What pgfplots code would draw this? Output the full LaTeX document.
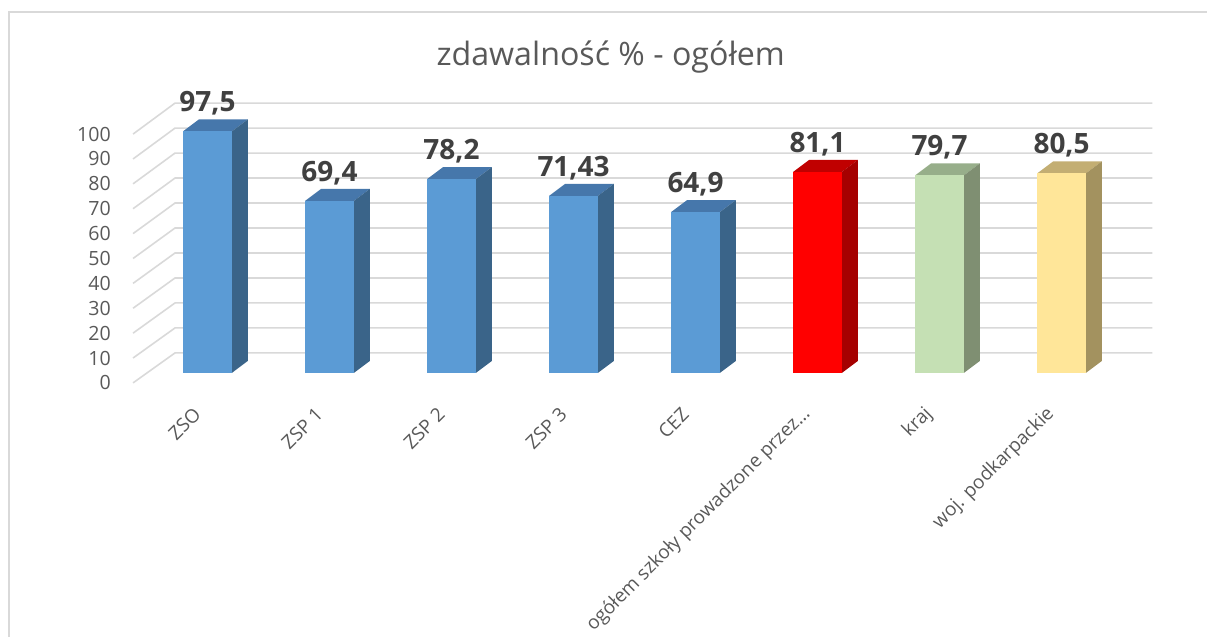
\documentclass[border=0pt]{standalone}
\usepackage{pgfplots}
\pgfplotsset{compat=1.18}
\usepackage{fontspec}
\setmainfont{Open Sans}
\definecolor{gridc}{HTML}{D9D9D9}
\definecolor{tickc}{HTML}{595959}
\definecolor{labc}{HTML}{404040}
\definecolor{bF}{HTML}{5B9BD5}\definecolor{bS}{HTML}{3A6489}\definecolor{bT}{HTML}{4677AB}
\definecolor{rF}{HTML}{FF0000}\definecolor{rS}{HTML}{A50000}\definecolor{rT}{HTML}{C00000}
\definecolor{gF}{HTML}{C5E0B4}\definecolor{gS}{HTML}{7F8F72}\definecolor{gT}{HTML}{97AE8A}
\definecolor{yF}{HTML}{FFE699}\definecolor{yS}{HTML}{A3925F}\definecolor{yT}{HTML}{C3AE73}
% x, value, front, side, top
\newcommand{\cbar}[5]{%
 \pgfmathsetmacro\xa{#1-0.2}%
 \pgfmathsetmacro\xb{#1+0.2}%
 \pgfmathsetmacro\xc{#1+0.331}%
 \pgfmathsetmacro\xd{#1-0.069}%
 \pgfmathsetmacro\yt{#2+4.84}%
 \addplot[fill=#5, draw=none, forget plot] coordinates {(\xa,#2) (\xb,#2) (\xc,\yt) (\xd,\yt)};
 \addplot[fill=#4, draw=none, forget plot] coordinates {(\xb,0) (\xc,4.84) (\xc,\yt) (\xb,#2)};
 \addplot[fill=#3, draw=none, forget plot] coordinates {(\xa,0) (\xb,0) (\xb,#2) (\xa,#2)};
}
\begin{document}
\begin{tikzpicture}
\begin{axis}[
  x=61.05pt, y=1.24pt,
  xmin=-1.699, xmax=8.194, ymin=-106.45, ymax=150.4,
  clip=false,
  axis line style={draw=none},
  major tick length=0pt,
  /pgf/number format/assume math mode=true,
  ytick={-4.03,6.01,16.05,26.09,36.13,46.17,56.21,66.25,76.29,86.33,96.37},
  yticklabels={0,10,20,30,40,50,60,70,80,90,100},
  yticklabel style={inner sep=0pt, anchor=east, xshift=55.5pt, font=\fontsize{9.8}{12}\selectfont, text=tickc},
  xtick={0,1,2,3,4,5,6,7},
  xticklabels={ZSO,ZSP 1,ZSP 2,ZSP 3,CEZ,ogółem szkoły prowadzone przez…,kraj,woj. podkarpackie},
  xticklabel style={inner sep=0pt, xshift=-5pt, yshift=113pt, rotate=45, anchor=east, font=\fontsize{9.5}{11}\selectfont, text=tickc},
]
% frame
\draw[gridc, line width=0.8pt] (axis cs:-1.626,-106.45) -- (axis cs:-1.626,145.56) -- (axis cs:8.194,145.56);
% gridlines
\addplot[gridc, line width=0.8pt, forget plot] coordinates {(-0.61,-4.03) (-0.266,8.06) (7.744,8.06)};
\addplot[gridc, line width=0.8pt, forget plot] coordinates {(-0.61,6.01) (-0.266,18.15) (7.744,18.15)};
\addplot[gridc, line width=0.8pt, forget plot] coordinates {(-0.61,16.05) (-0.266,28.23) (7.744,28.23)};
\addplot[gridc, line width=0.8pt, forget plot] coordinates {(-0.61,26.09) (-0.266,38.31) (7.744,38.31)};
\addplot[gridc, line width=0.8pt, forget plot] coordinates {(-0.61,36.13) (-0.266,48.39) (7.744,48.39)};
\addplot[gridc, line width=0.8pt, forget plot] coordinates {(-0.61,46.17) (-0.266,58.47) (7.744,58.47)};
\addplot[gridc, line width=0.8pt, forget plot] coordinates {(-0.61,56.21) (-0.266,68.55) (7.744,68.55)};
\addplot[gridc, line width=0.8pt, forget plot] coordinates {(-0.61,66.25) (-0.266,78.63) (7.744,78.63)};
\addplot[gridc, line width=0.8pt, forget plot] coordinates {(-0.61,76.29) (-0.266,88.71) (7.744,88.71)};
\addplot[gridc, line width=0.8pt, forget plot] coordinates {(-0.61,86.33) (-0.266,98.79) (7.744,98.79)};
\addplot[gridc, line width=0.8pt, forget plot] coordinates {(-0.61,96.37) (-0.266,108.87) (7.744,108.87)};
% bars
\cbar{0}{97.5}{bF}{bS}{bT}
\cbar{1}{69.4}{bF}{bS}{bT}
\cbar{2}{78.2}{bF}{bS}{bT}
\cbar{3}{71.43}{bF}{bS}{bT}
\cbar{4}{64.9}{bF}{bS}{bT}
\cbar{5}{81.1}{rF}{rS}{rT}
\cbar{6}{79.7}{gF}{gS}{gT}
\cbar{7}{80.5}{yF}{yS}{yT}
% value labels
\addplot[draw=none, forget plot, nodes near coords, point meta=explicit symbolic,
  every node near coord/.append style={anchor=base, yshift=9.8pt, inner sep=0pt,
  font=\fontsize{14}{17}\selectfont\bfseries, text=labc}]
  coordinates {(0,97.5)[97,5] (1,69.4)[69,4] (2,78.2)[78,2] (3,71.43)[71,43]
               (4,64.9)[64,9] (5,81.1)[81,1] (6,79.7)[79,7] (7,80.5)[80,5]};
% title
\node[anchor=base, inner sep=0pt, font=\fontsize{16.1}{19}\selectfont, text=tickc] at (axis cs:3.305,124.2) {zdawalność \% - ogółem};
\end{axis}
\end{tikzpicture}
\end{document}
